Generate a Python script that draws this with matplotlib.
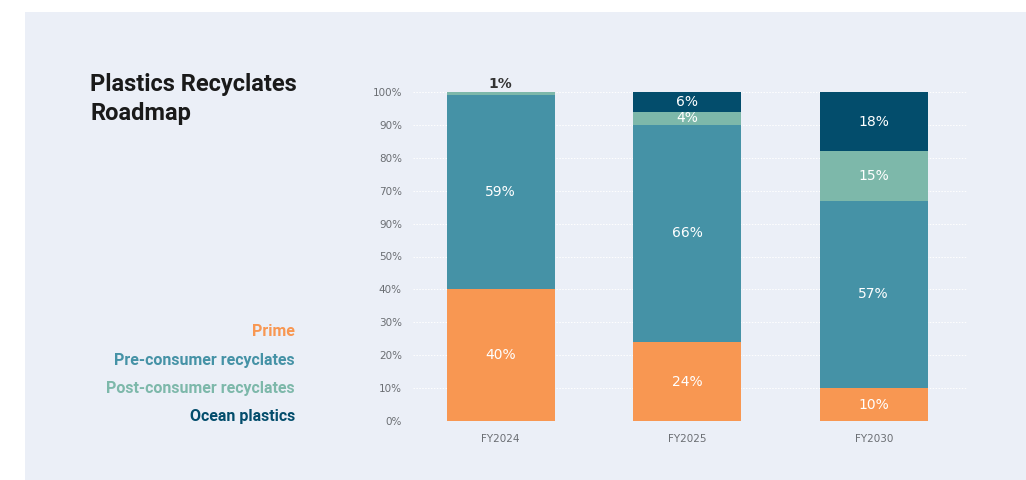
import matplotlib.pyplot as plt

years = ["FY2024", "FY2025", "FY2030"]
prime = [40, 24, 10]
pre_consumer = [59, 66, 57]
post_consumer = [1, 4, 15]
ocean = [0, 6, 18]
series_names = ["Prime", "Pre-consumer recyclates", "Post-consumer recyclates", "Ocean plastics"]
colors = ["#F89752", "#4592A6", "#7DB8AA", "#034D6C"]
tick_vals = [0, 10, 20, 30, 40, 50, 60, 70, 80, 90, 100]
tick_labels = ["0%", "10%", "20%", "30%", "40%", "50%", "90%", "70%", "80%", "90%", "100%"]

W, H = 1026, 480
fig = plt.figure(figsize=(W / 100, H / 100), dpi=100)
fig.patch.set_facecolor("white")

# light panel behind everything
bg = fig.add_axes([25 / W, 0, 1 - 25 / W, 1 - 12 / H], zorder=0)
bg.set_facecolor("#EBEFF7")
bg.set_xticks([])
bg.set_yticks([])
for s in bg.spines.values():
    s.set_visible(False)

ax = fig.add_axes([413 / W, 59 / H, 554 / W, 329 / H], zorder=1)
ax.set_facecolor("none")

x = range(len(years))
width = 0.58
bottom = [0, 0, 0]
all_series = [prime, pre_consumer, post_consumer, ocean]
for vals, col in zip(all_series, colors):
    ax.bar(x, vals, width, bottom=bottom, color=col, zorder=2)
    for i, v in enumerate(vals):
        if v == 0:
            continue
        if v < 3:
            # too thin, put the label above
            ax.text(i, bottom[i] + v + 0.4, f"{v}%", ha="center", va="bottom",
                    color="#333333", fontsize=10, fontweight="bold", zorder=3)
        else:
            ax.text(i, bottom[i] + v / 2, f"{v}%", ha="center", va="center",
                    color="white", fontsize=10, zorder=3)
    bottom = [b + v for b, v in zip(bottom, vals)]

ax.set_ylim(0, 100)
ax.set_xlim(-0.47, 2.5)
ax.set_yticks(tick_vals)
ax.set_yticklabels(tick_labels, fontsize=7.5, color="#6b6e73")
ax.set_xticks(list(x))
ax.set_xticklabels(years, fontsize=7.5, color="#6b6e73")
ax.tick_params(length=0, axis="y", pad=8)
ax.tick_params(length=0, axis="x", pad=9)
for s in ax.spines.values():
    s.set_visible(False)
ax.grid(axis="y", color="white", linestyle=(0, (1.5, 1.5)), linewidth=0.7, zorder=1)
ax.set_axisbelow(True)

fig.text(90 / W, 1 - 99 / H, "Plastics Recyclates\nRoadmap", ha="left", va="center",
         fontsize=17, fontweight="bold", color="#1a1a1a", family="Roboto",
         linespacing=1.3)

legend_y = [331, 360, 388, 416]
for name, col, yy in zip(series_names, colors, legend_y):
    fig.text(295 / W, 1 - yy / H, name, ha="right", va="center",
             fontsize=11.5, fontweight="bold", color=col, family="Roboto")

fig.savefig("out.png", dpi=100)
